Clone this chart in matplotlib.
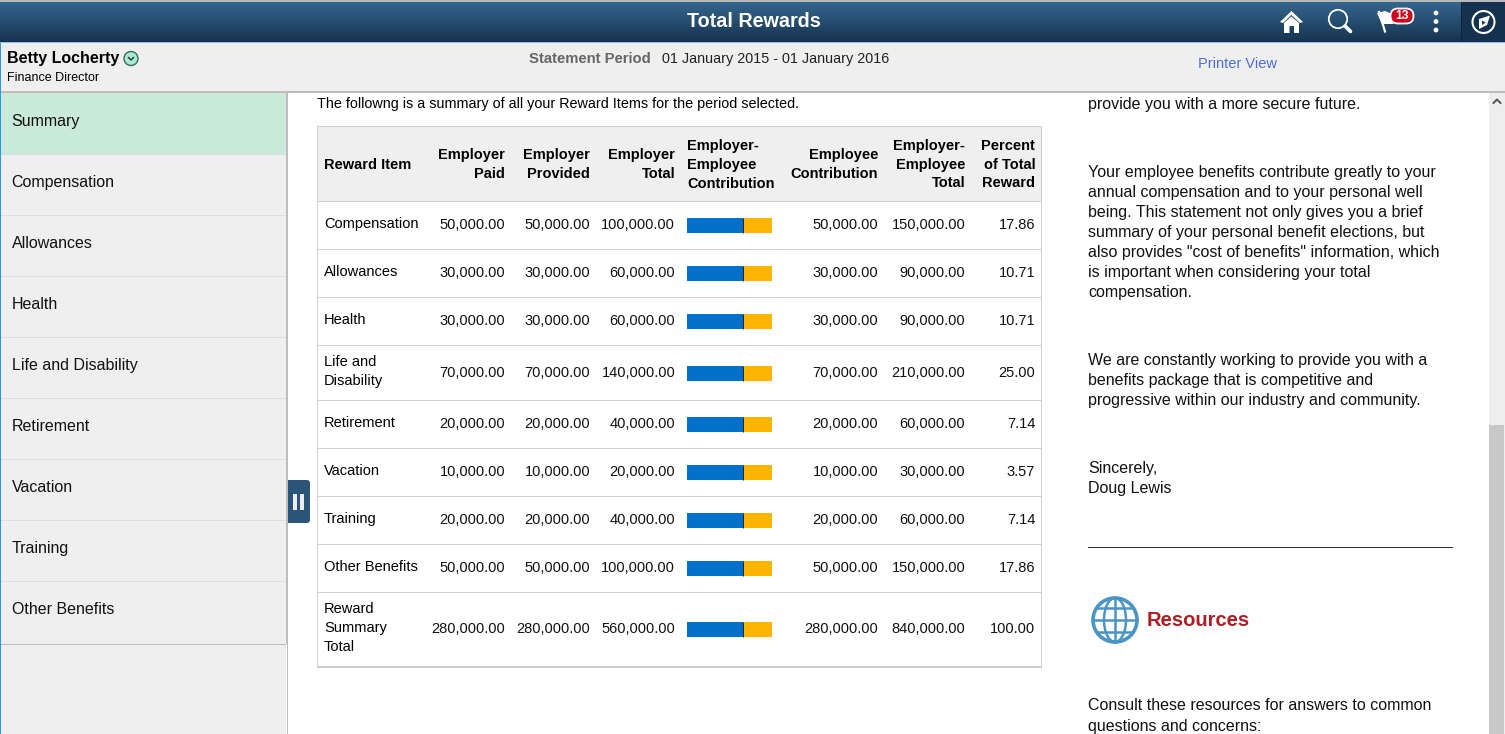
import numpy as np
import matplotlib
matplotlib.use('Agg')
import matplotlib.pyplot as plt
from matplotlib.patches import Rectangle, Circle, Polygon, FancyBboxPatch, Ellipse

plt.rcParams['font.family'] = ['Liberation Sans', 'DejaVu Sans']

# sidebar + table contents
menu_items = ['Summary', 'Compensation', 'Allowances', 'Health', 'Life and Disability',
              'Retirement', 'Vacation', 'Training', 'Other Benefits']

reward_items = ['Compensation', 'Allowances', 'Health', 'Life and\nDisability', 'Retirement',
                'Vacation', 'Training', 'Other Benefits', 'Reward\nSummary\nTotal']
employer_paid = [50000, 30000, 30000, 70000, 20000, 10000, 20000, 50000, 280000]
employer_provided = [50000, 30000, 30000, 70000, 20000, 10000, 20000, 50000, 280000]
employer_total = [100000, 60000, 60000, 140000, 40000, 20000, 40000, 100000, 560000]
employee_contribution = [50000, 30000, 30000, 70000, 20000, 10000, 20000, 50000, 280000]
combined_total = [150000, 90000, 90000, 210000, 60000, 30000, 60000, 150000, 840000]
percent_total = [17.86, 10.71, 10.71, 25.00, 7.14, 3.57, 7.14, 17.86, 100.00]

headers = ['Employer\nPaid', 'Employer\nProvided', 'Employer\nTotal',
           'Employee\nContribution', 'Employer-\nEmployee\nTotal', 'Percent\nof Total\nReward']

letter_lines = ['provide you with a more secure future.',
                'Your employee benefits contribute greatly to your',
                'annual compensation and to your personal well',
                'being. This statement not only gives you a brief',
                'summary of your personal benefit elections, but',
                'also provides "cost of benefits" information, which',
                'is important when considering your total',
                'compensation.',
                'We are constantly working to provide you with a',
                'benefits package that is competitive and',
                'progressive within our industry and community.',
                'Sincerely,', 'Doug Lewis']
letter_y = [103, 171, 191, 211, 231, 251, 271, 291, 359, 379, 399, 467, 487]

W, H = 1505, 734
fig = plt.figure(figsize=(W / 100, H / 100), dpi=100)
ax = fig.add_axes([0, 0, 1, 1])

px = 0.72  # 1 css px in points at dpi 100


def rect(x, y, w, h, color, z=1):
    ax.add_patch(Rectangle((x, y), w, h, facecolor=color, edgecolor='none', zorder=z))


def label(x, y, s, size=14.67, color='black', weight='normal', ha='left', va='center', ls=1.42, z=5):
    ax.text(x, y + 1, s, fontsize=size * px, color=color, fontweight=weight, ha=ha, va=va,
            linespacing=ls, zorder=z)


rect(0, 0, W, H, 'white', 0)

# banner
grad = np.linspace(0, 1, 42)[:, None]
cols = np.array([0x36, 0x68, 0x90]) * (1 - grad) + np.array([0x16, 0x33, 0x50]) * grad
ax.imshow(cols[:, None, :].astype(np.uint8), extent=[0, W, 42, 0], aspect='auto', zorder=1)
rect(0, 0, W, 1.5, '#b8b8b8', 2)
rect(0, 42, W, 1.2, '#8fc0ea', 2)
rect(1461, 2, 44, 40, '#14324f', 2)
rect(1461, 2, 1, 40, '#0d2338', 3)
label(753.5, 20.5, 'Total Rewards', size=19.8, color='white', weight='bold', ha='center')

# home icon
ax.add_patch(Polygon([(1280, 22), (1291.5, 11), (1303, 22), (1300, 23), (1291.5, 15), (1283, 23)],
                     facecolor='white', zorder=4))
ax.add_patch(Polygon([(1284, 23), (1291.5, 16.5), (1299, 23), (1299, 33), (1294, 33), (1294, 26),
                      (1289.5, 26), (1289.5, 33), (1284, 33)], facecolor='white', zorder=4))
# search icon
ax.add_patch(Circle((1338, 19), 9.2, facecolor='none', edgecolor='white', lw=1.3, zorder=4))
ax.plot([1345, 1350.5], [26, 31.5], color='white', lw=2.6, solid_capstyle='round', zorder=4)
# flag + badge
ax.plot([1379, 1385], [12, 31.5], color='white', lw=1.6, zorder=4)
ax.add_patch(Polygon([(1377, 13), (1385, 11), (1392, 14), (1397, 13), (1393, 24), (1382, 24)],
                     facecolor='white', zorder=4))
ax.add_patch(FancyBboxPatch((1390.5, 8.5), 23, 15, boxstyle='round,pad=0,rounding_size=7.5',
                            facecolor='#d0021b', edgecolor='white', lw=1.3, zorder=5))
label(1401.5, 15, '13', size=12, color='white', weight='bold', ha='center', z=6)
# dots
for yy in [13, 21.5, 30]:
    ax.add_patch(Circle((1436, yy), 2.4, facecolor='white', edgecolor='none', zorder=4))
# compass
ax.add_patch(Circle((1483.5, 22), 11, facecolor='none', edgecolor='white', lw=1.5, zorder=4))
ax.add_patch(Polygon([(1479, 19), (1490, 15.5), (1487, 25), (1479, 29)], facecolor='white', zorder=4))
ax.add_patch(Polygon([(1482, 20.5), (1485.5, 22.5), (1482, 25)], facecolor='#14324f', zorder=5))

# person bar
rect(0, 43, W, 49, '#efefef', 1)
rect(0, 91, W, 1.5, '#bdbdbd', 2)
label(7, 58, 'Betty Locherty', size=16, weight='bold')
ax.add_patch(Circle((131, 58.5), 7, facecolor='#a6ecd2', edgecolor='#3c6a58', lw=1, zorder=4))
ax.plot([128.5, 131, 133.5], [57.5, 60, 57.5], color='#223344', lw=1, zorder=5)
label(7, 77, 'Finance Director', size=12.5)
label(651, 58, 'Statement Period', size=14.9, color='#666666', weight='bold', ha='right')
label(662, 58, '01 January 2015 - 01 January 2016', size=14.35, color='#222222')
label(1238, 63.5, 'Printer View', size=14.67, color='#4a6fd6', ha='center')

# left nav
rect(1.3, 92.5, 285, H - 92.5, '#efefef', 1)
rect(1.3, 92.5, 285, 61, '#c9e9d9', 2)
rect(0, 43, 1.3, H - 43, '#2f95e8', 3)
rect(286, 92, 2, 552, '#bdbdbd', 3)
rect(287, 644, 1, H - 644, '#bdbdbd', 3)
rect(1.3, 644, 285, 1.2, '#bdbdbd', 3)
for i, name in enumerate(menu_items):
    row_top = 92.5 + 61 * i
    label(11.5, row_top + 28, name, size=16, color='#111111')
    if i > 0:
        rect(1.3, row_top, 285, 1, '#dedede', 3)

# collapse handle
ax.add_patch(FancyBboxPatch((288, 480), 22, 43, boxstyle='round,pad=0,rounding_size=3',
                            facecolor='#2a5578', edgecolor='none', zorder=4))
rect(288, 480, 6, 43, '#2a5578', 4)
rect(292.7, 494, 4.5, 16, '#e8eef4', 5)
rect(299.6, 494, 4.5, 16, '#e8eef4', 5)

# table
label(317, 103, 'The followng is a summary of all your Reward Items for the period selected.', size=14.4)
rect(317.5, 126.5, 724, 75, '#efefef', 1)
row_lines = [201, 249, 297, 345, 400, 448, 496, 544, 592]
for yy in row_lines:
    rect(317.5, yy, 724, 1.2, '#d0d0d0', 2)
rect(317.5, 666, 724, 2, '#cccccc', 2)
rect(317.5, 126, 724, 1.2, '#d0d0d0', 2)
rect(317, 126, 1.2, 542, '#d0d0d0', 2)
rect(1041, 126, 1.2, 542, '#d0d0d0', 2)

label(324, 164, 'Reward Item', weight='bold')
col_right = [505.2, 590.2, 675.2, 878.2, 965.2, 1035.2]
for xr, head in zip(col_right, headers):
    label(xr, 163.7, head, weight='bold', ha='right')
label(687, 164, 'Employer-\nEmployee\nContribution', weight='bold')

row_y = [224, 272, 320, 372, 423, 471, 519, 567, 628]
name_y = [223, 271, 319, 370.4, 422, 470, 518, 566, 627]
columns = [employer_paid, employer_provided, employer_total, employee_contribution,
           combined_total]
for i, yy in enumerate(row_y):
    label(324, name_y[i], reward_items[i])
    for xr, col in zip(col_right, columns):
        label(xr, yy, f'{col[i]:,.2f}', color='#111111', ha='right')
    label(col_right[-1], yy, f'{percent_total[i]:.2f}', color='#111111', ha='right')

# stacked bars, scaled to 85 px for each row's total
bar_x, bar_w = 687, 84.5
emp = np.array(employer_total, dtype=float)
ee = np.array(employee_contribution, dtype=float)
share = emp / (emp + ee)
bar_y = np.array(row_y) + 1.5
ax.barh(bar_y, share * bar_w, left=bar_x, height=15.5, color='#0070c8', zorder=3)
ax.barh(bar_y, (1 - share) * bar_w, left=bar_x + share * bar_w, height=15.5, color='#ffb400', zorder=3)
ax.vlines(bar_x + share * bar_w, bar_y - 7.75, bar_y + 7.75, color='#0b2a4a', lw=0.7, zorder=4)

# right text column
for yy, line in zip(letter_y, letter_lines):
    label(1088, yy, line, size=16, color='#111111')
rect(1088, 546.5, 365, 1.2, '#333333', 3)

# globe
gc = '#4a94c6'
ax.add_patch(Circle((1115, 620), 22, facecolor='none', edgecolor=gc, lw=2.6, zorder=3))
ax.add_patch(Ellipse((1115, 620), 22, 44, facecolor='none', edgecolor=gc, lw=1.8, zorder=3))
ax.plot([1115, 1115], [598, 642], color=gc, lw=1.8, zorder=3)
for yy, half in [(608, 18), (620, 22), (632, 18)]:
    ax.plot([1115 - half, 1115 + half], [yy, yy], color=gc, lw=1.8, zorder=3)
label(1147, 620, 'Resources', size=20.1, color='#b01c21', weight='bold')
label(1088, 705, 'Consult these resources for answers to common', size=16, color='#111111')
label(1088, 725, 'questions and concerns:', size=16, color='#111111')

# scrollbar
rect(1489, 92.5, 16, H - 92, '#eeeeee', 2)
rect(1489, 425, 15, H - 425, '#c8c8c8', 3)
ax.plot([1493.5, 1497, 1500.5], [103, 99.5, 103], color='#555555', lw=1.4, zorder=4)

ax.set_xlim(0, W)
ax.set_ylim(H, 0)
ax.axis('off')
fig.savefig('out.png', dpi=100)
